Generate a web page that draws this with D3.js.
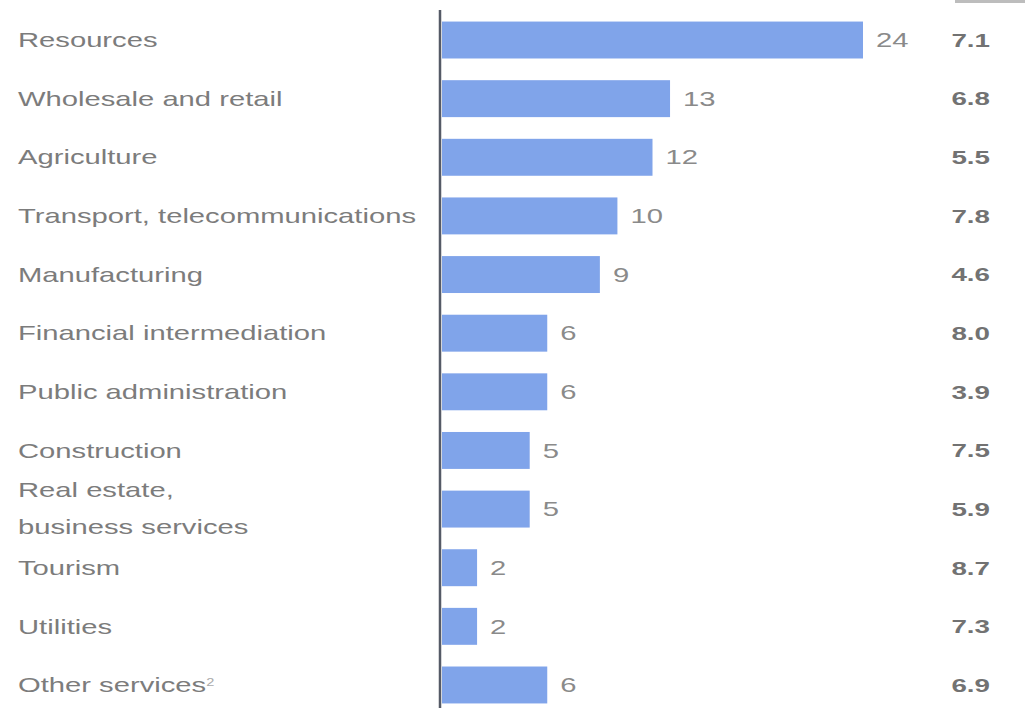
<!DOCTYPE html>
<html>
<head>
<meta charset="utf-8">
<script src="https://cdn.jsdelivr.net/npm/d3@7"></script>
<style>
  html, body { margin: 0; padding: 0; background: #fff; }
  svg { display: block; }
</style>
</head>
<body>
<svg id="chart" width="1025" height="708"></svg>
<script>
// Sectors, their shares and the figures in the right-hand column
const categories = [
  ["Resources"],
  ["Wholesale and retail"],
  ["Agriculture"],
  ["Transport, telecommunications"],
  ["Manufacturing"],
  ["Financial intermediation"],
  ["Public administration"],
  ["Construction"],
  ["Real estate,", "business services"],
  ["Tourism"],
  ["Utilities"],
  ["Other services"]
];
const shares = [24, 13, 12, 10, 9, 6, 6, 5, 5, 2, 2, 6];
const rightColumn = ["7.1", "6.8", "5.5", "7.8", "4.6", "8.0", "3.9", "7.5", "5.9", "8.7", "7.3", "6.9"];

const svg = d3.select("#chart");
const axisX = 440;
const stretch = 1.46;          // wide type setting
const font = "Liberation Sans, Arial, sans-serif";

const x = d3.scaleLinear().domain([0, 24]).range([axisX + 2, 863]);
const y = d3.scaleBand()
  .domain(d3.range(categories.length))
  .range([11, 714])
  .paddingInner(0.37)
  .paddingOuter(0.18);

const mid = i => y(i) + y.bandwidth() / 2;
const place = (px, py) => `translate(${px},${py}) scale(${stretch},1)`;

// bars
svg.append("g").selectAll("rect")
  .data(shares)
  .join("rect")
  .attr("x", x(0))
  .attr("y", (d, i) => y(i))
  .attr("width", d => x(d) - x(0))
  .attr("height", y.bandwidth())
  .attr("fill", "#80a4ea");

// value labels at the end of each bar
svg.append("g").selectAll("text")
  .data(shares)
  .join("text")
  .attr("transform", (d, i) => place(x(d) + 13, mid(i)))
  .attr("dy", "0.36em")
  .attr("font-family", font)
  .attr("font-size", 20)
  .attr("fill", "#8a8a8a")
  .text(d => d);

// category labels
const cat = svg.append("g").selectAll("text")
  .data(categories)
  .join("text")
  .attr("transform", (d, i) => place(18, mid(i)))
  .attr("font-family", font)
  .attr("font-size", 20)
  .attr("fill", "#7c7c7c");

cat.each(function(d) {
  const t = d3.select(this);
  if (d.length === 1) {
    t.append("tspan").attr("dy", "0.36em").text(d[0]);
  } else {
    t.append("tspan").attr("x", 0).attr("dy", "-0.6em").text(d[0]);
    t.append("tspan").attr("x", 0).attr("dy", "1.85em").text(d[1]);
  }
});

// footnote marker on the last category
cat.filter((d, i) => i === categories.length - 1)
  .append("tspan")
  .attr("dy", "-0.6em")
  .attr("font-size", 10)
  .attr("fill", "#aaaaaa")
  .text("2");

// right-hand column
svg.append("g").selectAll("text")
  .data(rightColumn)
  .join("text")
  .attr("transform", (d, i) => place(990, mid(i)))
  .attr("dy", "0.36em")
  .attr("text-anchor", "end")
  .attr("font-family", font)
  .attr("font-size", 19)
  .attr("font-weight", "bold")
  .attr("fill", "#727272")
  .text(d => d);

// vertical baseline
svg.append("line")
  .attr("x1", axisX).attr("x2", axisX)
  .attr("y1", 10).attr("y2", 708)
  .attr("stroke", "#555a66")
  .attr("stroke-width", 2.5);

// column header rule at the top right
svg.append("line")
  .attr("x1", 955).attr("x2", 1025)
  .attr("y1", 1.5).attr("y2", 1.5)
  .attr("stroke", "#bdbdbd")
  .attr("stroke-width", 3);
</script>
</body>
</html>
